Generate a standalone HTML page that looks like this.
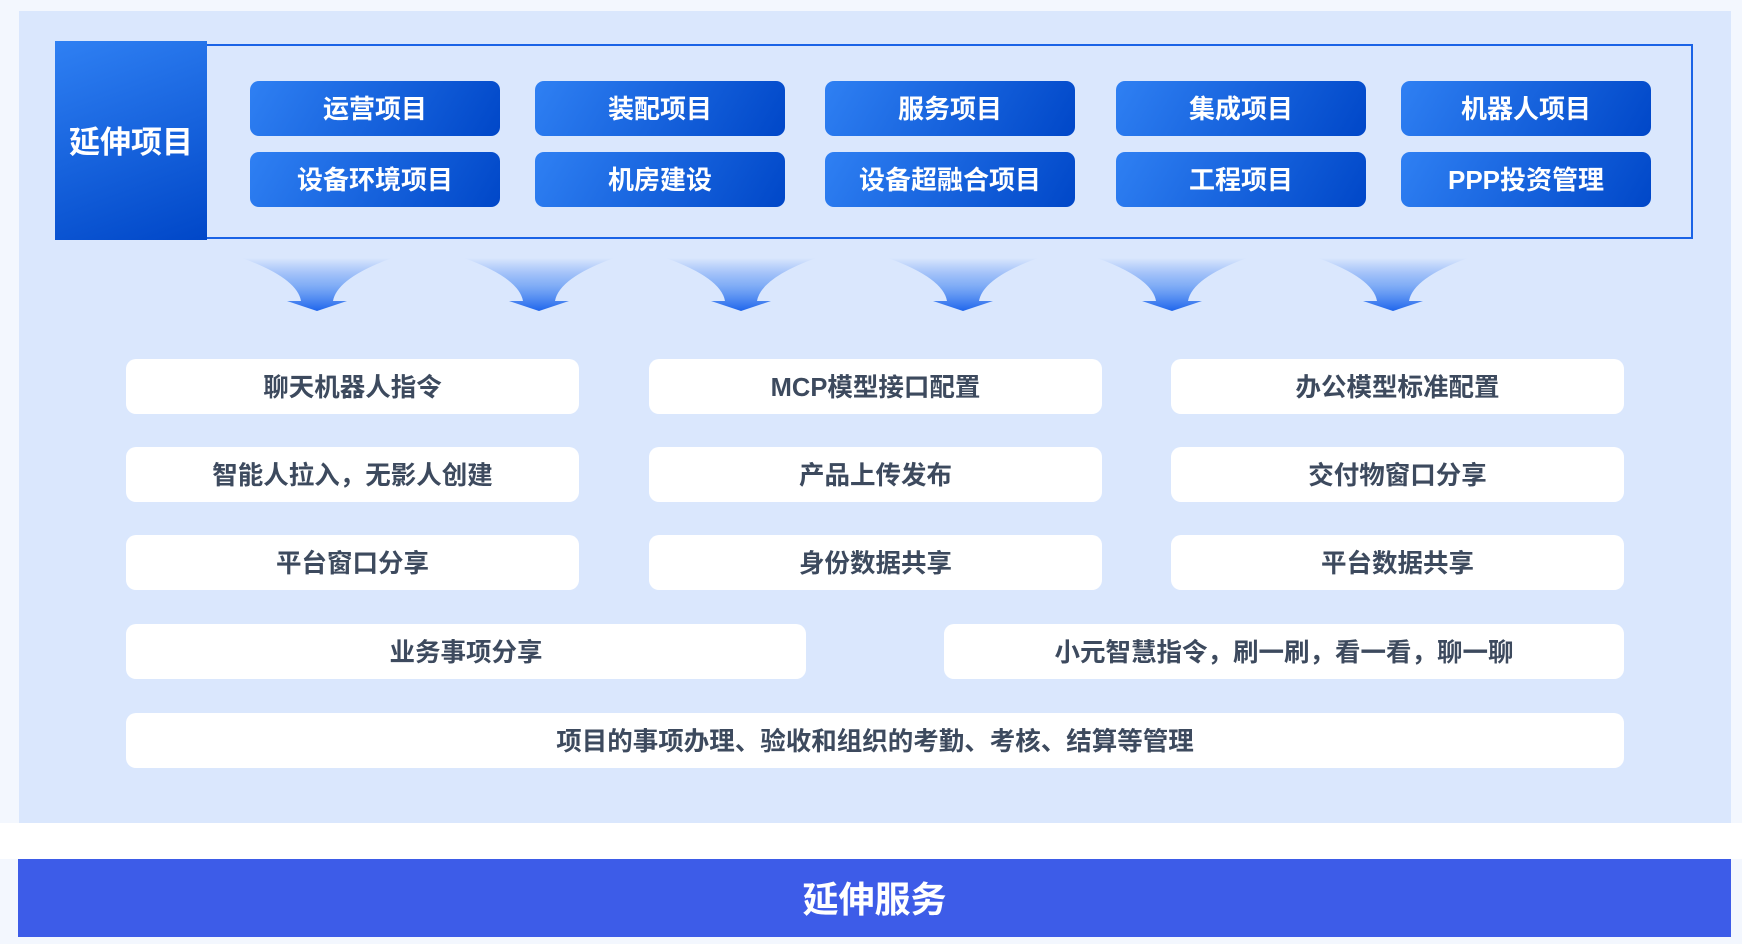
<!DOCTYPE html>
<html><head><meta charset="utf-8"><style>
*{margin:0;padding:0;box-sizing:border-box}
body{width:1742px;height:944px;background:#f3f7fe;position:relative;overflow:hidden;font-family:"Liberation Sans","Noto Sans CJK SC",sans-serif;font-weight:bold}
.abs{position:absolute}
.panel{left:19px;top:11px;width:1712px;height:812px;background:#dae7fd}
.left{left:55px;top:41px;width:152px;height:199px;background:linear-gradient(160deg,#2f80f3,#0047c8);color:#fff;font-size:31px;display:flex;align-items:center;justify-content:center;padding-bottom:3px}
.outline{left:205px;top:44px;width:1488px;height:195px;border:2px solid #1a63e6;border-left:none}
.btn{width:250px;height:55px;border-radius:9px;background:linear-gradient(120deg,#2f80f3,#0047c8);color:#fff;font-size:26px;display:flex;align-items:center;justify-content:center;padding-bottom:3px}
.card{height:55px;border-radius:10px;background:#fff;color:#3d4a5e;font-size:25.5px;display:flex;align-items:center;justify-content:center;padding-bottom:3px}
.bar{left:18px;top:859px;width:1713px;height:78px;background:#3d5ce8;color:#fff;font-size:36px;display:flex;align-items:center;justify-content:center;padding-bottom:3px}
</style></head><body>
<div class="abs" style="left:0;top:823px;width:1742px;height:36px;background:#fff"></div>
<div class="abs panel"></div>
<div class="abs outline"></div>
<div class="abs left">延伸项目</div>

<div class="abs btn" style="left:250px;top:81px">运营项目</div>
<div class="abs btn" style="left:535px;top:81px">装配项目</div>
<div class="abs btn" style="left:825px;top:81px">服务项目</div>
<div class="abs btn" style="left:1116px;top:81px">集成项目</div>
<div class="abs btn" style="left:1401px;top:81px">机器人项目</div>
<div class="abs btn" style="left:250px;top:152px">设备环境项目</div>
<div class="abs btn" style="left:535px;top:152px">机房建设</div>
<div class="abs btn" style="left:825px;top:152px">设备超融合项目</div>
<div class="abs btn" style="left:1116px;top:152px">工程项目</div>
<div class="abs btn" style="left:1401px;top:152px">PPP投资管理</div>

<svg class="abs" style="left:0;top:0" width="1742" height="944">
<defs>
<linearGradient id="g" x1="0" y1="0" x2="0" y2="1">
<stop offset="0" stop-color="#2b6ff0" stop-opacity="0"/>
<stop offset="0.5" stop-color="#4a8af2" stop-opacity="0.6"/>
<stop offset="1" stop-color="#1f65ec"/>
</linearGradient>
<path id="a" d="M-75,0 Q-20,20 -16,43 L-30,43 L0,53 L30,43 L16,43 Q20,20 75,0 Z" fill="url(#g)"/>
</defs>
<use href="#a" x="317" y="258"/>
<use href="#a" x="539" y="258"/>
<use href="#a" x="741" y="258"/>
<use href="#a" x="963" y="258"/>
<use href="#a" x="1172" y="258"/>
<use href="#a" x="1393" y="258"/>
</svg>

<div class="abs card" style="left:126px;top:359px;width:453px">聊天机器人指令</div>
<div class="abs card" style="left:649px;top:359px;width:453px">MCP模型接口配置</div>
<div class="abs card" style="left:1171px;top:359px;width:453px">办公模型标准配置</div>
<div class="abs card" style="left:126px;top:447px;width:453px">智能人拉入，无影人创建</div>
<div class="abs card" style="left:649px;top:447px;width:453px">产品上传发布</div>
<div class="abs card" style="left:1171px;top:447px;width:453px">交付物窗口分享</div>
<div class="abs card" style="left:126px;top:535px;width:453px">平台窗口分享</div>
<div class="abs card" style="left:649px;top:535px;width:453px">身份数据共享</div>
<div class="abs card" style="left:1171px;top:535px;width:453px">平台数据共享</div>
<div class="abs card" style="left:126px;top:624px;width:680px">业务事项分享</div>
<div class="abs card" style="left:944px;top:624px;width:680px">小元智慧指令，刷一刷，看一看，聊一聊</div>
<div class="abs card" style="left:126px;top:713px;width:1498px">项目的事项办理、验收和组织的考勤、考核、结算等管理</div>

<div class="abs bar">延伸服务</div>
</body></html>
